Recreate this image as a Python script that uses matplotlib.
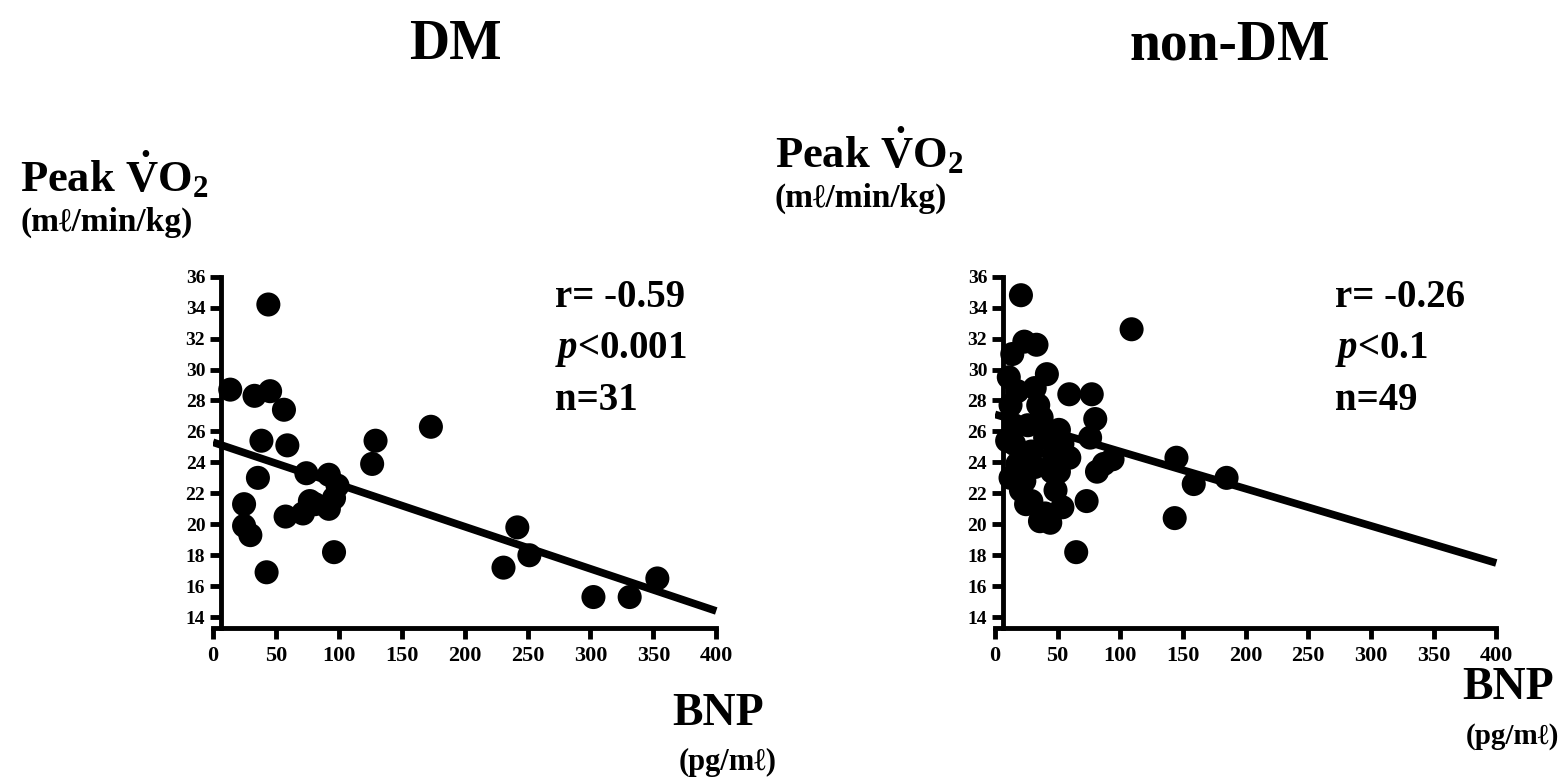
import matplotlib
matplotlib.use("Agg")
import matplotlib.pyplot as plt
import numpy as np

plt.rcParams['font.family'] = ['Liberation Serif', 'DejaVu Serif']
plt.rcParams['font.weight'] = 'bold'
plt.rcParams['mathtext.fontset'] = 'custom'
plt.rcParams['mathtext.rm'] = 'Liberation Serif:bold'
plt.rcParams['mathtext.bf'] = 'Liberation Serif:bold'
plt.rcParams['mathtext.it'] = 'Liberation Serif:italic:bold'

# DM group: BNP (pg/ml) vs peak VO2 (ml/min/kg)
dm_bnp = [44.0, 13.7, 33.0, 45.4, 56.4, 38.5, 59.1, 35.7, 24.7, 24.7, 29.7,
          42.6, 74.2, 92.1, 99.0, 57.7, 71.5, 81.1, 92.1, 96.2, 129.2, 126.5,
          173.2, 241.9, 230.9, 251.5, 302.4, 331.2, 353.2, 77.0, 96.2]
dm_vo2 = [34.2, 28.7, 28.3, 28.6, 27.4, 25.4, 25.1, 23.0, 21.3, 19.9, 19.3,
          16.9, 23.3, 23.2, 22.5, 20.5, 20.7, 21.3, 21.0, 18.2, 25.4, 23.9,
          26.3, 19.8, 17.2, 18.0, 15.3, 15.3, 16.5, 21.5, 21.7]
dm_fit = [25.3, 14.4]  # regression line value at BNP 0 and 400

# non-DM group
nondm_bnp = [20.7, 109.0, 23.4, 33.1, 13.8, 11.0, 41.4, 31.7, 34.5, 12.4,
             59.3, 77.2, 80.0, 75.9, 15.2, 26.2, 51.0, 40.0, 15.2, 29.0,
             46.9, 51.0, 17.9, 23.4, 48.3, 29.0, 40.0, 44.1, 24.8, 81.4,
             93.8, 144.8, 158.6, 184.8, 73.1, 143.4, 64.8, 35.9, 9.7, 53.8,
             17.9, 37.2, 53.8, 20.7, 12.4, 59.3, 86.9, 45.5, 31.7]
nondm_vo2 = [34.8, 32.6, 31.8, 31.6, 31.0, 29.5, 29.7, 28.8, 27.7, 27.7,
             28.4, 28.4, 26.8, 25.6, 26.4, 26.4, 26.1, 25.6, 25.2, 24.7,
             24.5, 23.4, 23.9, 22.8, 22.2, 21.5, 20.7, 20.1, 21.3, 23.4,
             24.2, 24.3, 22.6, 23.0, 21.5, 20.4, 18.2, 20.2, 25.4, 21.1,
             28.6, 26.9, 25.2, 22.2, 23.0, 24.3, 23.9, 23.4, 23.7]
nondm_fit = [27.1, 17.5]

fit_x = [0, 400]
x_ticks = [0, 50, 100, 150, 200, 250, 300, 350, 400]
y_ticks = list(range(14, 37, 2))

W, H = 1566, 779
fig = plt.figure(figsize=(W / 100, H / 100), dpi=100)
fig.patch.set_facecolor('white')


def px(x, y):
    return x / W, 1 - y / H


def scatter_panel(rect, bnp, vo2, fit):
    ax = fig.add_axes(rect)
    ax.scatter(bnp, vo2, s=300, color='black', edgecolors='none', zorder=3)
    ax.plot(fit_x, fit, color='black', lw=5.5, solid_capstyle='butt', zorder=2)
    ax.set_xlim(0, 403)
    ax.set_ylim(13.3, 36.3)
    ax.spines['top'].set_visible(False)
    ax.spines['right'].set_visible(False)
    ax.spines['left'].set_position(('data', 6))
    ax.spines['left'].set_bounds(13.3, 36)
    ax.spines['bottom'].set_bounds(0, 400)
    for s in ('left', 'bottom'):
        ax.spines[s].set_linewidth(3.5)
    ax.set_xticks(x_ticks)
    ax.set_yticks(y_ticks)
    ax.tick_params(direction='out', length=8, width=3.5)
    ax.tick_params(axis='x', labelsize=16, pad=5)
    ax.tick_params(axis='y', labelsize=14, pad=3)
    for lab in ax.get_xticklabels() + ax.get_yticklabels():
        lab.set_fontweight('bold')
    ax.patch.set_alpha(0)
    return ax


ax1 = scatter_panel([213 / W, 1 - 628 / H, 507 / W, 356 / H], dm_bnp, dm_vo2, dm_fit)
ax2 = scatter_panel([995 / W, 1 - 628 / H, 505 / W, 356 / H], nondm_bnp, nondm_vo2, nondm_fit)

# panel titles
fig.text(*px(455, 45), 'DM', fontsize=40, ha='center', va='center')
fig.text(*px(1230, 45), 'non-DM', fontsize=40, ha='center', va='center')

# y labels
fig.text(*px(20, 192), r'Peak $\dot{\mathrm{V}}$O$_\mathrm{2}$', fontsize=32, ha='left', va='baseline')
fig.text(*px(20, 222), '(m\u2113/min/kg)', fontsize=24, ha='left', va='center')
fig.text(*px(775, 168), r'Peak $\dot{\mathrm{V}}$O$_\mathrm{2}$', fontsize=32, ha='left', va='baseline')
fig.text(*px(775, 198), '(m\u2113/min/kg)', fontsize=24, ha='left', va='center')

# x labels
fig.text(*px(718, 714), 'BNP', fontsize=33, ha='center', va='center')
fig.text(*px(728, 762), '(pg/m\u2113)', fontsize=22, ha='center', va='center')
fig.text(*px(1508, 688), 'BNP', fontsize=33, ha='center', va='center')
fig.text(*px(1512, 737), '(pg/m\u2113)', fontsize=21, ha='center', va='center')

# statistics
for x0, r, p, n in [(555, 'r= -0.59', '$p$<0.001', 'n=31'),
                    (1335, 'r= -0.26', '$p$<0.1', 'n=49')]:
    fig.text(*px(x0, 307), r, fontsize=28, ha='left', va='baseline')
    fig.text(*px(x0, 358), p, fontsize=28, ha='left', va='baseline')
    fig.text(*px(x0, 410), n, fontsize=28, ha='left', va='baseline')

fig.savefig('out.png', dpi=100)
